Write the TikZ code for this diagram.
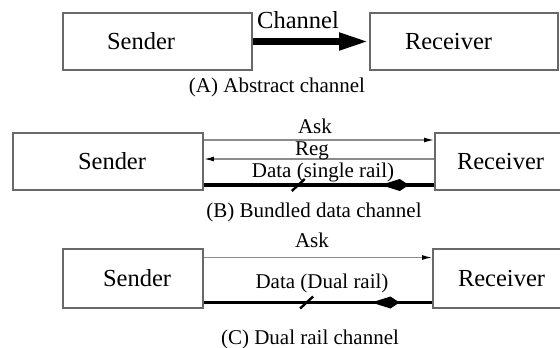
\documentclass[tikz,border=0pt]{standalone}
\usepackage{fontspec}
\setmainfont{Liberation Serif}
\usetikzlibrary{arrows.meta, decorations.markings}

\definecolor{boxgray}{RGB}{105,105,105}
\definecolor{wiregray}{RGB}{140,140,140}
\newcommand{\boxfont}{\fontsize{24.5}{28}\selectfont}
\newcommand{\lblfont}{\fontsize{21}{24}\selectfont}

\begin{document}
\begin{tikzpicture}[x=1pt, y=-1pt,
    box/.style={draw=boxgray, line width=1.8pt, minimum height=57pt,
      inner xsep=0pt, align=left, font=\boxfont},
    lbl/.style={anchor=base, inner sep=0pt, font=\lblfont},
    wire/.style={draw=wiregray, line width=1.4pt,
      -{Latex[length=10pt, width=5pt, color=black]}},
    bus/.style 2 args={line width=3.5pt, postaction={decorate},
      decoration={markings,
        mark=at position #1 with {\draw[line width=2.4pt] (-6.5pt,-6pt) -- (6.5pt,6pt);},
        mark=at position #2 with {\arrow{Kite[length=28pt, width=12pt, inset=19pt]}}}}]
    \useasboundingbox (0,0) rectangle (560,348);

    % (A) abstract channel
    \node [box, text width=189pt] (sendA) at (157.5, 41.5) {\hspace*{44pt}Sender};
    \node [box, text width=188pt] (recvA) at (464, 41.5) {\hspace*{35pt}Receiver};
    \draw [line width=7pt, -{Triangle[length=30pt, width=16pt]}] (sendA) -- (recvA);
    \node [anchor=base, inner sep=0pt, font=\boxfont] (chanA) at (298, 28) {Channel};
    \node [lbl] (capA) at (277, 92) {(A) Abstract channel};

    % (B) bundled data channel
    \node [box, text width=190pt] (sendB) at (108, 161.5) {\hspace*{65pt}Sender};
    \node [box, text width=127pt] (recvB) at (498.5, 161.5) {\hspace*{22pt}Receiver};
    \draw [wire] ([yshift=21.5pt]sendB.east) -- ([yshift=21.5pt]recvB.west);
    \draw [wire] ([yshift=2.5pt]recvB.west) -- ([yshift=2.5pt]sendB.east);
    \draw [bus={0.41}{0.89}] ([yshift=-23.5pt]sendB.east) -- ([yshift=-23.5pt]recvB.west);
    \node [lbl] (askB) at (315, 133) {Ask};
    \node [lbl] (regB) at (312, 155) {Reg};
    \node [lbl] (dataB) at (323, 177) {Data (single rail)};
    \node [lbl] (capB) at (314, 217) {(B) Bundled data channel};

    % (C) dual rail channel
    \node [box, text width=140pt, minimum height=59pt] (sendC) at (133, 278.5) {\hspace*{40pt}Sender};
    \node [box, text width=129pt, minimum height=59pt] (recvC) at (497.5, 278.5) {\hspace*{25pt}Receiver};
    \draw [wire] ([yshift=21pt]sendC.east) -- ([yshift=21pt]recvC.west);
    \draw [bus={0.45}{0.857}] ([yshift=-24pt]sendC.east) -- ([yshift=-24pt]recvC.west);
    \node [lbl] (askC) at (312, 247) {Ask};
    \node [lbl] (dataC) at (322, 288) {Data (Dual rail)};
    \node [lbl] (capC) at (310, 344) {(C) Dual rail channel};
  \end{tikzpicture}
\end{document}
